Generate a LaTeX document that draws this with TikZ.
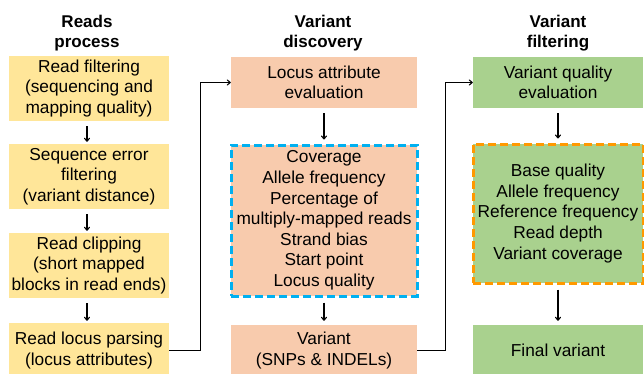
\documentclass[tikz,border=0pt]{standalone}
\usepackage{fontspec}
\setmainfont{Liberation Sans}
\usetikzlibrary{arrows.meta}
\definecolor{cyel}{HTML}{FFE699}
\definecolor{cpea}{HTML}{F8CBAD}
\definecolor{cgre}{HTML}{A9D18E}
\definecolor{cblu}{HTML}{00B0F0}
\definecolor{cora}{HTML}{FF9900}
\begin{document}
\begin{tikzpicture}[x=1pt,y=-1pt,
  font=\fontsize{17.3}{20.6}\selectfont,
  box/.style={rectangle,inner sep=0pt,align=center,text=black},
  ybox/.style={box,fill=cyel,minimum width=160pt},
  pbox/.style={box,fill=cpea,minimum width=186pt},
  gbox/.style={box,fill=cgre,minimum width=170pt},
  dashedge/.style={line width=3pt,dash pattern=on 8pt off 4pt},
  title/.style={align=center,font=\fontsize{17}{20}\selectfont\bfseries},
  arr/.style={-{To[length=4pt,width=6pt]},line width=1.1pt},
  conn/.style={-{To[length=4pt,width=6pt]},line width=1.1pt}
]
\useasboundingbox (0,0) rectangle (644,373);
% titles
\node[title] (t1) at (87,33) {Reads\\process};
\node[title] (t2) at (323,33) {Variant\\discovery};
\node[title] (t3) at (558,33) {Variant\\filtering};
% left column
\node[ybox,minimum height=65pt] (l1) at (89,88.5) {Read filtering\\(sequencing and\\mapping quality)};
\node[ybox,minimum height=65pt] (l2) at (89,176.5) {Sequence error\\filtering\\(variant distance)};
\node[ybox,minimum height=65pt] (l3) at (89,265.5) {Read clipping\\(short mapped\\blocks in read ends)};
\node[ybox,minimum height=55pt] (l4) at (89,350.5) {Read locus parsing\\(locus attributes)};
% middle column
\node[pbox,minimum height=51pt] (m1) at (324,82.5) {Locus attribute\\evaluation};
\node[pbox,minimum height=151pt,draw=cblu,dashedge] (m2) at (324,220.5) {Coverage\\Allele frequency\\Percentage of\\multiply-mapped reads\\Strand bias\\Start point\\Locus quality};
\node[pbox,minimum height=51pt] (m3) at (324,350.5) {Variant\\(SNPs \& INDELs)};
% right column
\node[gbox,minimum height=51pt] (r1) at (558,82.5) {Variant quality\\evaluation};
\node[gbox,minimum height=139pt,draw=cora,dashedge] (r2) at (558,213.5) {Base quality\\Allele frequency\\Reference frequency\\Read depth\\Variant coverage};
\node[gbox,minimum height=51pt] (r3) at (558,350.5) {Final variant};
% vertical arrows
\draw[arr,shorten <=5pt,shorten >=2pt] (l1.south -| 87,0) -- (l2.north -| 87,0);
\draw[arr,shorten <=5pt,shorten >=2pt] (l2.south -| 87,0) -- (l3.north -| 87,0);
\draw[arr,shorten <=5pt,shorten >=2pt] (l3.south -| 87,0) -- (l4.north -| 87,0);
\draw[arr,shorten <=5pt,shorten >=4pt] (m1) -- (m2);
\draw[arr,shorten <=5pt,shorten >=4pt] (m2) -- (m3);
\draw[arr,shorten <=5pt,shorten >=4pt] (r1) -- (r2);
\draw[arr,shorten <=5pt,shorten >=4pt] (r2) -- (r3);
% connectors between columns
\draw[conn] (l4.east) -- ++(31,0) |- (m1.west);
\draw[conn] (m3.east) -- ++(28,0) |- (r1.west);
\end{tikzpicture}
\end{document}
